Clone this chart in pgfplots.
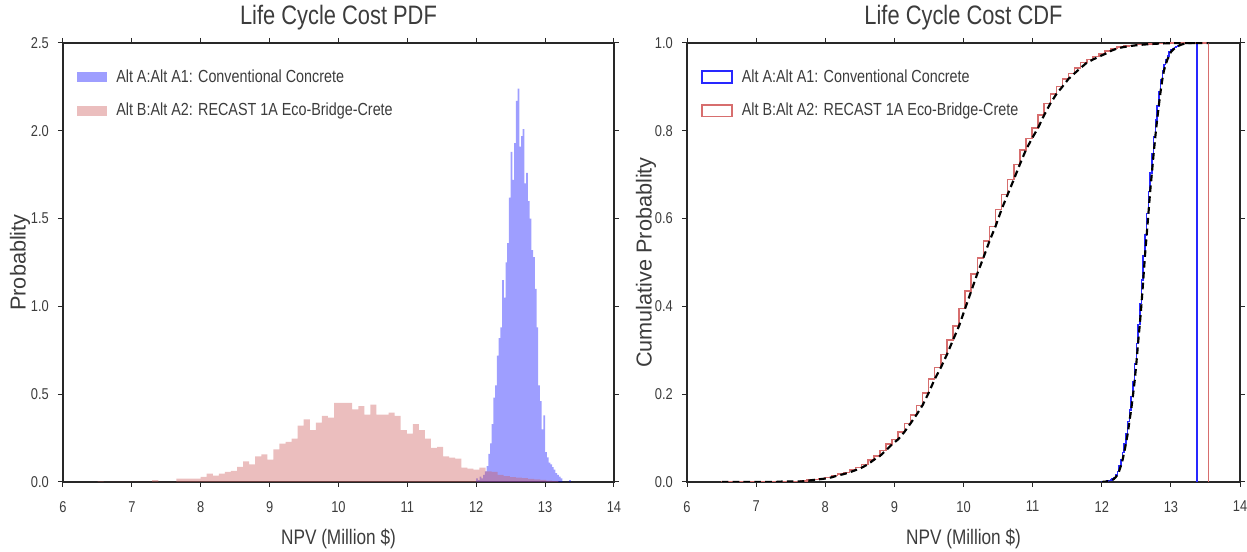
\documentclass[border=0pt]{standalone}
\usepackage{fontspec}
\setmainfont{Liberation Sans}
\newfontfamily\narrow{Liberation Sans}[FakeStretch=0.82]
\usepackage{pgfplots}
\usepackage{pgfplotstable}
\pgfplotsset{compat=1.18}

\definecolor{histblue}{RGB}{0,0,255}
\definecolor{histred}{RGB}{205,92,92}
\definecolor{stepblue}{RGB}{40,40,255}
\definecolor{stepred}{RGB}{215,110,110}
\definecolor{axgray}{RGB}{40,40,40}
\definecolor{txtgray}{RGB}{60,60,60}

% histogram densities, x = left bin edge (last row closes the last bin)
\pgfplotstableread{
x y
6.503 0.003
6.591 0
6.679 0
6.767 0
6.855 0
6.943 0
7.031 0
7.119 0
7.207 0
7.295 0.010
7.383 0
7.471 0
7.559 0
7.647 0.019
7.735 0.019
7.823 0.019
7.911 0.019
7.999 0.029
8.087 0.048
8.175 0.036
8.263 0.048
8.351 0.057
8.439 0.063
8.527 0.086
8.615 0.118
8.703 0.100
8.791 0.146
8.879 0.158
8.967 0.127
9.055 0.186
9.143 0.219
9.231 0.228
9.319 0.247
9.407 0.321
9.495 0.357
9.583 0.295
9.671 0.338
9.759 0.376
9.847 0.367
9.935 0.450
10.023 0.450
10.111 0.450
10.199 0.413
10.287 0.432
10.375 0.384
10.463 0.441
10.551 0.384
10.639 0.384
10.727 0.395
10.815 0.376
10.903 0.295
10.991 0.276
11.079 0.329
11.167 0.295
11.255 0.247
11.343 0.194
11.431 0.200
11.519 0.146
11.607 0.139
11.695 0.133
11.783 0.082
11.871 0.076
11.959 0.070
12.047 0.082
12.135 0.060
12.223 0.057
12.311 0.040
12.399 0.034
12.487 0.028
12.575 0.025
12.663 0.022
12.751 0.018
12.839 0.015
12.927 0.012
13.015 0.008
13.103 0.005
13.191 0
}\histB

\pgfplotstableread{
x y
12.000 0.02
12.025 0.01
12.050 0.03
12.075 0.02
12.100 0.04
12.125 0.06
12.150 0.09
12.175 0.16
12.200 0.22
12.225 0.33
12.250 0.48
12.275 0.55
12.300 0.72
12.325 0.82
12.350 0.88
12.375 1.15
12.400 1.05
12.425 1.25
12.450 1.36
12.475 1.62
12.500 1.88
12.525 1.72
12.550 1.93
12.575 2.17
12.600 2.24
12.625 1.91
12.650 1.97
12.675 2.01
12.700 1.70
12.725 1.76
12.750 1.60
12.775 1.50
12.800 1.32
12.825 1.28
12.850 1.10
12.875 0.88
12.900 0.55
12.925 0.46
12.950 0.30
12.975 0.38
13.000 0.17
13.025 0.14
13.050 0.11
13.075 0.10
13.100 0.085
13.125 0.07
13.150 0.05
13.175 0.04
13.200 0.03
13.225 0.02
13.250 0
13.275 0
13.300 0
13.325 0
13.350 0.01
13.375 0
}\histA

% cumulative probability at the right edge of each bin
\pgfplotstableread{
x y
12.000 0
12.025 0.0005
12.050 0.0007
12.075 0.0015
12.100 0.0020
12.125 0.0030
12.150 0.0045
12.175 0.0067
12.200 0.0107
12.225 0.0161
12.250 0.0243
12.275 0.0362
12.300 0.0498
12.325 0.0677
12.350 0.0880
12.375 0.1098
12.400 0.1383
12.425 0.1643
12.450 0.1953
12.475 0.2290
12.500 0.2692
12.525 0.3158
12.550 0.3584
12.575 0.4062
12.600 0.4600
12.625 0.5156
12.650 0.5629
12.675 0.6117
12.700 0.6615
12.725 0.7037
12.750 0.7473
12.775 0.7870
12.800 0.8242
12.825 0.8569
12.850 0.8886
12.875 0.9158
12.900 0.9376
12.925 0.9513
12.950 0.9627
12.975 0.9701
13.000 0.9796
13.025 0.9838
13.050 0.9872
13.075 0.9900
13.100 0.9925
13.125 0.9946
13.150 0.9963
13.175 0.9975
13.200 0.9985
13.225 0.9993
13.250 0.9998
13.275 0.9998
13.300 0.9998
13.325 0.9998
13.350 0.9998
13.375 1.0
}\cdfA

\pgfplotstableread{
x y
6.503 0
6.591 0.0003
6.679 0.0003
6.767 0.0003
6.855 0.0003
6.943 0.0003
7.031 0.0003
7.119 0.0003
7.207 0.0003
7.295 0.0003
7.383 0.0011
7.471 0.0011
7.559 0.0011
7.647 0.0011
7.735 0.0028
7.823 0.0045
7.911 0.0062
7.999 0.0078
8.087 0.0104
8.175 0.0146
8.263 0.0178
8.351 0.0220
8.439 0.0270
8.527 0.0326
8.615 0.0401
8.703 0.0505
8.791 0.0593
8.879 0.0722
8.967 0.0861
9.055 0.0972
9.143 0.1136
9.231 0.1329
9.319 0.1529
9.407 0.1747
9.495 0.2029
9.583 0.2343
9.671 0.2603
9.759 0.2900
9.847 0.3231
9.935 0.3554
10.023 0.3950
10.111 0.4346
10.199 0.4742
10.287 0.5106
10.375 0.5486
10.463 0.5824
10.551 0.6212
10.639 0.6550
10.727 0.6888
10.815 0.7235
10.903 0.7566
10.991 0.7826
11.079 0.8069
11.167 0.8358
11.255 0.8618
11.343 0.8835
11.431 0.9006
11.519 0.9182
11.607 0.9310
11.695 0.9433
11.783 0.9550
11.871 0.9622
11.959 0.9689
12.047 0.9750
12.135 0.9823
12.223 0.9875
12.311 0.9906
12.399 0.9928
12.487 0.9946
12.575 0.9960
12.663 0.9971
12.751 0.9980
12.839 0.9987
12.927 0.9992
13.015 0.9997
13.103 0.9999
13.191 1.0
13.279 1.0
13.367 1.0
13.455 1.0
13.543 1.0
}\cdfB

\pgfplotsset{
  mpl/.style={
    scale only axis, height=263.4pt,
    xmin=6, xmax=14, xtick={6,...,14},
    axis line style={axgray, line width=0.8pt},
    tick style={axgray, line width=0.6pt},
    tick align=outside, major tick length=3pt,
    /pgf/number format/assume math mode=true,
    tick label style={font=\narrow\fontsize{9.4}{11}\selectfont, text=txtgray},
    xticklabel style={yshift=-5pt},
    yticklabel style={xshift=-2pt, /pgf/number format/.cd, fixed, fixed zerofill, precision=1},
    title style={font=\narrow\fontsize{16}{19}\selectfont, text=txtgray,
      at={(axis description cs:0.5,1)}, anchor=base, yshift=5pt},
    xlabel={NPV (Million \$)},
    xlabel style={font=\narrow\fontsize{12.6}{15}\selectfont, text=txtgray,
      at={(axis description cs:0.5,0)}, anchor=base, yshift=-37.5pt},
    ylabel style={font=\fontsize{13}{15}\selectfont, text=txtgray, anchor=center},
    legend style={at={(axis description cs:0.025,0.948)}, anchor=north west,
      draw=none, fill=none, inner sep=0pt,
      font=\narrow\fontsize{10.5}{12}\selectfont, text=txtgray,
      /tikz/every odd column/.append style={column sep=3.5pt},
      row sep=7pt},
    legend cell align=left,
  },
  boxleg/.style={legend image code/.code={\fill[##1] (0pt,-3pt) rectangle (18pt,3pt);}},
  lineleg/.style={legend image code/.code={\draw[##1] (0pt,-3.5pt) rectangle (18pt,3.5pt);}},
}

\begin{document}
\begin{tikzpicture}
\begin{axis}[mpl, width=330.6pt, at={(0,0)}, anchor=south west,
  ymin=0, ymax=2.5, ytick={0,0.5,...,2.5},
  title={Life Cycle Cost PDF},
  ylabel={Probablity},
  ylabel style={at={(axis description cs:-0.078,0.5)}}]
\addplot[const plot, fill=histblue, fill opacity=0.38, draw=none, boxleg]
  table[x=x, y=y] {\histA} \closedcycle;
\addlegendentry{Alt A:Alt A1: Conventional Concrete}
\addplot[const plot, fill=histred, fill opacity=0.4, draw=none, boxleg]
  table[x=x, y=y] {\histB} \closedcycle;
\addlegendentry{Alt B:Alt A2: RECAST 1A Eco-Bridge-Crete}
\end{axis}

\begin{axis}[mpl, width=331.8pt, at={(374.4pt,0)}, anchor=south west,
  ymin=0, ymax=1, ytick={0,0.2,...,1.0},
  title={Life Cycle Cost CDF},
  ylabel={Cumulative Probablity},
  ylabel style={at={(axis description cs:-0.074,0.5)}}]
\addplot[const plot mark right, stepblue, line width=0.9pt, lineleg]
  table[x=x, y=y] {\cdfA};
\addlegendentry{Alt A:Alt A1: Conventional Concrete}
\addplot[const plot mark right, stepred, line width=0.9pt, lineleg]
  table[x=x, y=y] {\cdfB};
\addlegendentry{Alt B:Alt A2: RECAST 1A Eco-Bridge-Crete}
\addplot[stepblue, line width=0.9pt, forget plot] coordinates {(13.375,1) (13.375,0)};
\addplot[stepred, line width=0.9pt, forget plot] coordinates {(13.543,1) (13.543,0)};
\addplot[black, line width=1.3pt, dash pattern=on 4pt off 2.5pt, forget plot]
  table[x=x, y=y] {\cdfB};
\addplot[black, line width=1.3pt, dash pattern=on 4pt off 2.5pt, forget plot]
  table[x=x, y=y] {\cdfA};
\end{axis}
\pgfresetboundingbox
\path[use as bounding box] (-37.8pt,-42pt) rectangle (710.4pt,289.2pt);
\end{tikzpicture}
\end{document}
